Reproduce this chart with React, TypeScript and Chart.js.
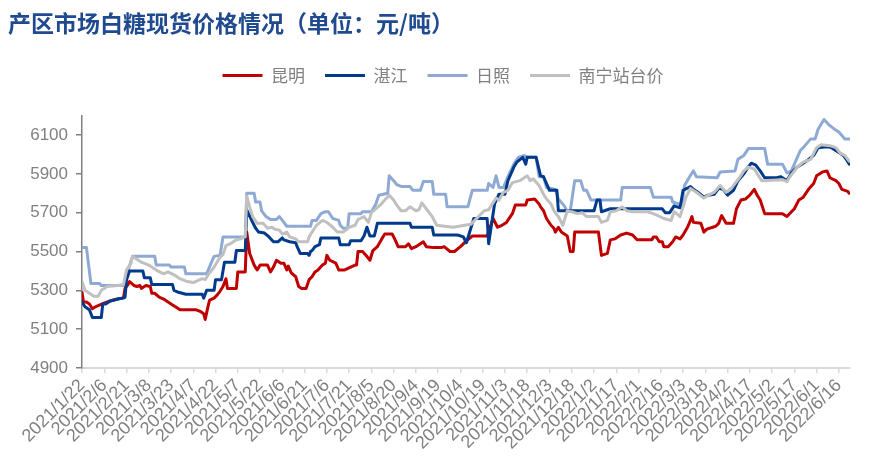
import { useEffect, useRef } from 'react';
import { Chart, registerables } from 'chart.js';

Chart.register(...registerables);

// Day offsets: day 0 = 2021/1/22 (calendar days). Tick every 15 days.
const xTickLabels = [
  '2021/1/22', '2021/2/6', '2021/2/21', '2021/3/8', '2021/3/23', '2021/4/7', '2021/4/22',
  '2021/5/7', '2021/5/22', '2021/6/6', '2021/6/21', '2021/7/6', '2021/7/21', '2021/8/5',
  '2021/8/20', '2021/9/4', '2021/9/19', '2021/10/4', '2021/10/19', '2021/11/3', '2021/11/18',
  '2021/12/3', '2021/12/18', '2022/1/2', '2022/1/17', '2022/2/1', '2022/2/16', '2022/3/3',
  '2022/3/18', '2022/4/2', '2022/4/17', '2022/5/2', '2022/5/17', '2022/6/1', '2022/6/16',
];
const tickStepDays = 15;
const lastDay = 517.5;
const yTicks = [4900, 5100, 5300, 5500, 5700, 5900, 6100];
const yMin = 4900;
const yMax = 6200;

const titleText = '产区市场白糖现货价格情况（单位：元/吨）';
const seriesNames = ['昆明', '湛江', '日照', '南宁站台价'];

// [day offset, price]
const kunming: [number, number][] = [
  [0,5290],[1,5240],[3,5240],[5,5230],[7,5205],[9,5215],[12,5225],[17,5240],[19,5245],[24,5255],[27,5260],[28,5265],[29,5310],[31,5330],[32,5345],[35,5325],[37,5320],[39,5325],[40,5310],[43,5325],[46,5320],[47,5285],[49,5285],[52,5265],[55,5255],[58,5240],[61,5225],[63,5215],[66,5200],[77,5200],[80,5190],[82,5180],[83,5150],[85,5220],[86,5250],[89,5260],[91,5275],[93,5295],[95,5320],[97,5360],[98,5310],[104,5310],[105,5395],[110,5395],[111,5600],[113,5490],[116,5430],[118,5405],[120,5430],[125,5430],[127,5395],[129,5420],[131,5455],[134,5440],[136,5440],[138,5405],[139,5425],[141,5390],[144,5370],[146,5320],[148,5310],[151,5310],[153,5355],[155,5370],[157,5395],[159,5405],[162,5430],[164,5440],[165,5480],[167,5455],[171,5440],[173,5405],[177,5405],[181,5420],[184,5430],[185,5430],[186,5500],[189,5500],[192,5475],[194,5455],[196,5505],[199,5525],[202,5565],[204,5590],[209,5590],[211,5560],[213,5525],[218,5525],[220,5540],[222,5515],[225,5525],[228,5540],[230,5550],[232,5525],[237,5520],[242,5520],[244,5525],[248,5500],[251,5500],[255,5525],[259,5555],[263,5580],[273,5580],[277,5670],[280,5625],[283,5635],[286,5650],[290,5695],[292,5740],[299,5740],[300,5765],[305,5770],[308,5745],[309,5730],[311,5710],[313,5670],[316,5635],[318,5620],[319,5600],[321,5625],[323,5600],[326,5585],[327,5580],[329,5500],[331,5500],[332,5600],[348,5600],[350,5480],[354,5490],[356,5560],[359,5565],[363,5585],[367,5595],[371,5585],[374,5560],[384,5560],[385,5575],[387,5575],[389,5550],[391,5550],[392,5525],[395,5525],[398,5550],[400,5575],[403,5565],[405,5585],[408,5625],[410,5660],[411,5680],[412,5650],[417,5645],[419,5600],[421,5615],[425,5625],[427,5630],[429,5645],[431,5685],[434,5645],[439,5645],[441,5720],[444,5765],[447,5770],[450,5790],[453,5820],[455,5790],[457,5765],[460,5695],[472,5695],[475,5680],[480,5720],[483,5765],[486,5780],[490,5825],[493,5850],[495,5890],[499,5910],[502,5915],[504,5880],[508,5865],[510,5850],[512,5820],[516,5810],[517,5800],
];

const zhanjiang: [number, number][] = [
  [0,5240],[2,5215],[5,5200],[7,5160],[13,5160],[14,5230],[16,5230],[19,5245],[24,5255],[28,5260],[29,5265],[30,5355],[32,5400],[41,5400],[42,5365],[46,5365],[47,5330],[61,5330],[62,5300],[65,5290],[70,5280],[81,5280],[82,5260],[84,5300],[89,5300],[90,5355],[94,5355],[96,5445],[103,5445],[104,5505],[110,5505],[111,5715],[115,5650],[117,5620],[119,5600],[123,5595],[126,5575],[129,5550],[132,5550],[135,5570],[136,5560],[140,5550],[144,5545],[145,5525],[147,5490],[152,5490],[153,5480],[154,5500],[155,5505],[157,5525],[160,5535],[161,5570],[173,5570],[174,5535],[180,5535],[181,5555],[188,5555],[190,5580],[192,5625],[194,5580],[197,5580],[199,5645],[221,5645],[222,5625],[236,5625],[237,5585],[253,5585],[257,5575],[259,5545],[264,5670],[273,5670],[274,5540],[278,5745],[281,5795],[285,5795],[287,5865],[291,5935],[293,5960],[297,5985],[299,5950],[300,5985],[306,5985],[309,5890],[311,5885],[313,5850],[315,5815],[320,5815],[321,5710],[345,5710],[347,5765],[349,5765],[350,5705],[356,5720],[391,5720],[393,5700],[396,5700],[399,5735],[403,5725],[405,5815],[410,5835],[412,5820],[416,5800],[419,5780],[422,5790],[426,5795],[429,5825],[432,5820],[435,5790],[439,5815],[442,5865],[446,5900],[448,5925],[451,5955],[454,5945],[457,5915],[460,5880],[468,5880],[471,5885],[473,5875],[475,5865],[478,5905],[482,5935],[485,5950],[489,5970],[493,5995],[496,6035],[502,6040],[505,6035],[510,6010],[513,5995],[515,5975],[517,5950],
];

const rizhao: [number, number][] = [
  [0,5520],[3,5520],[6,5335],[12,5335],[13,5325],[29,5325],[30,5400],[31,5400],[34,5475],[49,5475],[50,5430],[59,5430],[60,5420],[69,5420],[70,5385],[84,5385],[87,5440],[89,5475],[93,5480],[95,5575],[110,5575],[111,5800],[116,5800],[117,5755],[120,5755],[121,5710],[124,5680],[127,5665],[131,5665],[133,5680],[135,5660],[138,5630],[154,5630],[155,5660],[158,5660],[161,5695],[164,5705],[166,5705],[169,5670],[173,5660],[174,5635],[176,5620],[179,5620],[180,5695],[188,5695],[189,5705],[195,5705],[198,5745],[200,5790],[206,5800],[207,5890],[210,5865],[212,5845],[215,5835],[221,5835],[223,5815],[228,5815],[230,5860],[236,5860],[237,5795],[245,5795],[246,5730],[260,5730],[263,5815],[273,5815],[274,5850],[277,5830],[279,5890],[281,5830],[284,5830],[287,5885],[291,5950],[294,5985],[298,5995],[300,5985],[306,5985],[308,5885],[311,5885],[313,5830],[319,5820],[321,5770],[325,5735],[327,5705],[329,5710],[332,5865],[336,5865],[338,5815],[340,5815],[343,5765],[363,5765],[364,5830],[383,5830],[385,5780],[397,5780],[398,5755],[402,5745],[404,5725],[406,5840],[409,5880],[412,5915],[414,5885],[428,5880],[430,5910],[440,5915],[442,5975],[446,5995],[449,6030],[460,6030],[462,5950],[472,5950],[475,5905],[478,5915],[482,5985],[484,6020],[486,6035],[491,6080],[494,6080],[496,6130],[500,6180],[503,6155],[507,6130],[510,6115],[514,6080],[517,6080],
];

const nanning: [number, number][] = [
  [0,5345],[2,5300],[5,5285],[8,5270],[11,5270],[13,5300],[15,5310],[17,5320],[24,5325],[28,5330],[30,5405],[33,5440],[34,5475],[37,5460],[40,5445],[45,5430],[47,5420],[51,5400],[55,5385],[58,5395],[62,5380],[66,5360],[71,5345],[75,5340],[78,5350],[81,5360],[83,5355],[85,5380],[89,5420],[93,5470],[95,5485],[97,5530],[100,5540],[104,5560],[107,5565],[109,5575],[110,5575],[111,5785],[113,5730],[115,5680],[118,5645],[122,5645],[125,5620],[128,5625],[130,5615],[133,5610],[135,5590],[138,5600],[140,5575],[144,5565],[146,5550],[152,5550],[153,5575],[155,5600],[158,5635],[162,5660],[165,5650],[169,5625],[172,5600],[176,5600],[180,5625],[184,5635],[186,5665],[190,5680],[193,5650],[195,5700],[198,5720],[201,5740],[204,5765],[207,5790],[210,5765],[212,5740],[215,5710],[218,5710],[221,5730],[225,5710],[227,5715],[229,5750],[233,5710],[236,5680],[239,5635],[250,5625],[258,5635],[262,5640],[271,5710],[274,5715],[279,5775],[281,5765],[284,5805],[287,5815],[290,5855],[295,5865],[300,5890],[302,5865],[304,5875],[308,5840],[311,5795],[313,5770],[316,5745],[318,5710],[321,5680],[324,5635],[327,5710],[330,5705],[334,5695],[337,5700],[340,5680],[348,5680],[350,5650],[354,5660],[356,5705],[360,5710],[364,5730],[367,5710],[371,5705],[381,5705],[385,5695],[388,5685],[392,5670],[397,5660],[399,5705],[403,5680],[407,5780],[410,5825],[414,5805],[419,5775],[422,5790],[426,5805],[430,5840],[434,5805],[438,5830],[443,5880],[446,5915],[449,5935],[453,5925],[455,5900],[458,5865],[472,5870],[475,5860],[477,5885],[482,5935],[486,5960],[491,5975],[495,6035],[498,6050],[504,6045],[508,6035],[511,6005],[514,5995],[517,5965],
];

const seriesColors = ['#c00000', '#003a8c', '#8eaad4', '#c0c0c0'];
const seriesOrder = [3, 1, 2, 0];

export default function App() {
  const ref = useRef<HTMLCanvasElement>(null);

  useEffect(() => {
    if (!ref.current) return;
    const all = [kunming, zhanjiang, rizhao, nanning];
    const datasets = all.map((arr, i) => ({
      label: seriesNames[i],
      data: arr.map(([x, y]) => ({ x, y })),
      borderColor: seriesColors[i],
      backgroundColor: seriesColors[i],
      borderWidth: 3,
      pointRadius: 0,
      pointHoverRadius: 0,
      tension: 0,
      order: seriesOrder[i],
      borderJoinStyle: 'round' as const,
      borderCapStyle: 'round' as const,
    }));

    const chart = new Chart(ref.current, {
      type: 'line',
      data: { datasets },
      options: {
        animation: false,
        responsive: false,
        maintainAspectRatio: false,
        layout: { padding: { left: 8, right: 8, top: 0, bottom: 0 } },
        plugins: {
          tooltip: { enabled: false },
          title: {
            display: true,
            text: titleText,
            align: 'start',
            color: '#1f4a8f',
            font: { family: 'Noto Sans CJK SC', size: 23, weight: 'bold', lineHeight: 1.2 },
            padding: { top: 9, bottom: 10.5 },
          },
          subtitle: {
            display: true,
            text: ' ',
            weight: 500,
            font: { size: 1, lineHeight: 1 },
            padding: { top: 0, bottom: 20.5 },
          } as any,
          legend: {
            display: true,
            position: 'top',
            labels: {
              usePointStyle: true,
              pointStyle: 'line',
              pointStyleWidth: 40,
              color: '#808080',
              padding: 20,
              font: { family: 'Noto Sans CJK SC', size: 17 },
              sort: (a: any, b: any) => a.datasetIndex - b.datasetIndex,
            },
          },
        },
        scales: {
          x: {
            type: 'linear',
            min: 0,
            max: lastDay,
            afterBuildTicks: (s: any) => {
              s.ticks = xTickLabels.map((_, i) => ({ value: i * tickStepDays }));
            },
            afterFit: (s: any) => {
              s.height = 104;
            },
            ticks: {
              autoSkip: false,
              minRotation: 45,
              maxRotation: 45,
              color: '#808080',
              padding: 2,
              font: { family: 'Liberation Sans', size: 18 },
              callback: (v: any) => xTickLabels[Math.round(Number(v) / tickStepDays)] ?? '',
            },
            grid: { drawOnChartArea: false, drawTicks: true, tickLength: 5, color: '#d9d9d9', lineWidth: 1.5 },
            border: { color: '#d9d9d9', width: 2 },
          },
          y: {
            type: 'linear',
            position: 'left',
            min: yMin,
            max: yMax,
            afterBuildTicks: (s: any) => {
              s.ticks = yTicks.map((v) => ({ value: v }));
            },
            afterFit: (s: any) => {
              s.width = 74;
            },
            ticks: {
              color: '#808080',
              padding: 8,
              font: { family: 'Liberation Sans', size: 17 },
              callback: (v: any) => String(v),
            },
            grid: { drawOnChartArea: false, drawTicks: true, tickLength: 6, color: '#808080', lineWidth: 1.5 },
            border: { color: '#808080', width: 1.5 },
          },
          y2: {
            type: 'linear',
            position: 'right',
            display: true,
            afterFit: (s: any) => {
              s.width = 28;
            },
            ticks: { display: false },
            grid: { display: false },
            border: { display: false },
          },
        },
      },
    });
    return () => chart.destroy();
  }, []);

  return (
    <div style={{ position: 'fixed', left: 0, top: 0, width: 886, height: 472, background: '#fff' }}>
      <canvas ref={ref} width={886} height={472} style={{ display: 'block' }} />
    </div>
  );
}
